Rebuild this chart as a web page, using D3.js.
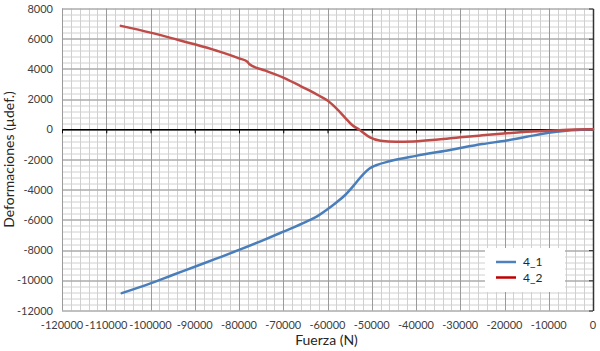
<!DOCTYPE html>
<html>
<head>
<meta charset="utf-8">
<script src="https://cdn.jsdelivr.net/npm/d3@7"></script>
<style>
  body { margin: 0; background: #fff; }
  svg { display: block; font-family: Lato, "Open Sans", sans-serif; }
</style>
</head>
<body>
<svg id="drawing_region"></svg>
<script>
// fuerza (N), deformacion (µdef.)
const fuerza41 = [-106500, -100000, -95000, -90000, -85000, -80000, -75000, -70000, -65000, -62000, -60000, -58000, -56000, -54000, -52000, -50500, -49000, -46000, -40000, -32300, -25000, -19500, -15000, -10000, -6000, 0];
const defor41  = [-10850, -10200, -9650, -9100, -8550, -7990, -7400, -6780, -6150, -5700, -5300, -4850, -4350, -3700, -3000, -2600, -2380, -2120, -1760, -1370, -980, -740, -500, -230, -100, 0];

const fuerza42 = [-106700, -100000, -95000, -90000, -85000, -80000, -78100, -77700, -74000, -70000, -66000, -64000, -62000, -60000, -58000, -56000, -54500, -52700, -50400, -48000, -44500, -40600, -35000, -30000, -25000, -19500, -15000, -10000, -6700, 0];
const defor42  = [6850, 6400, 6020, 5630, 5200, 4700, 4470, 4330, 3880, 3420, 2850, 2560, 2240, 1900, 1380, 760, 300, -50, -540, -760, -820, -800, -680, -530, -400, -265, -170, -90, -40, 0];

const seriesNames = ["4_1", "4_2"];
const xTicks = d3.range(-120000, 1, 10000);
const yTicks = d3.range(-12000, 8001, 2000);

const width = 600, height = 351;
const margin = {top: 8.5, right: 7, bottom: 40.5, left: 62};
const innerW = width - margin.left - margin.right;
const innerH = height - margin.top - margin.bottom;

const svg = d3.select('#drawing_region').attr('width', width).attr('height', height);
const chart = svg.append('g').attr('transform', `translate(${margin.left}, ${margin.top})`);

const xscale = d3.scaleLinear().domain([-120000, 0]).range([0, innerW]);
const yscale = d3.scaleLinear().domain([-12000, 8000]).range([innerH, 0]);

// minor grid
chart.append('g').selectAll('line').data(d3.range(-120000, 1, 2000)).enter()
  .append('line')
  .attr('x1', d => Math.round(xscale(d)) + 0.5).attr('x2', d => Math.round(xscale(d)) + 0.5)
  .attr('y1', 0).attr('y2', innerH)
  .attr('stroke', '#d0d0d0').attr('stroke-width', 1);
chart.append('g').selectAll('line').data(d3.range(-12000, 8001, 400)).enter()
  .append('line')
  .attr('y1', d => Math.round(yscale(d)) + 0.5).attr('y2', d => Math.round(yscale(d)) + 0.5)
  .attr('x1', 0).attr('x2', innerW)
  .attr('stroke', '#d0d0d0').attr('stroke-width', 1);

// major grid
chart.append('g').selectAll('line').data(xTicks).enter()
  .append('line')
  .attr('x1', d => Math.round(xscale(d)) + 0.5).attr('x2', d => Math.round(xscale(d)) + 0.5)
  .attr('y1', 0).attr('y2', innerH)
  .attr('stroke', '#9a9a9a').attr('stroke-width', 1);
chart.append('g').selectAll('line').data(yTicks).enter()
  .append('line')
  .attr('y1', d => Math.round(yscale(d)) + 0.5).attr('y2', d => Math.round(yscale(d)) + 0.5)
  .attr('x1', 0).attr('x2', innerW)
  .attr('stroke', '#9a9a9a').attr('stroke-width', 1);

// x axis on zero line
const xaxis = d3.axisBottom(xscale).tickValues(xTicks).tickSize(4).tickSizeOuter(0).tickFormat('');
const xg = chart.append('g').attr('transform', `translate(0, ${yscale(0)})`).call(xaxis);
xg.select('.domain').attr('stroke', '#000').attr('stroke-width', 1.5);
xg.selectAll('.tick line').attr('stroke', '#000');

// y axis at x = 0 (right side), ticks pointing left
const yaxis = d3.axisLeft(yscale).tickValues(yTicks).tickSize(4).tickSizeOuter(0).tickFormat('');
const yg = chart.append('g').attr('transform', `translate(${xscale(0)}, 0)`).call(yaxis);
yg.select('.domain').attr('stroke', '#333').attr('stroke-width', 1.5);
yg.selectAll('.tick line').attr('stroke', '#333');

// tick labels (low position)
chart.append('g').selectAll('text').data(xTicks).enter()
  .append('text')
  .attr('x', d => xscale(d)).attr('y', innerH + 18)
  .attr('text-anchor', 'middle').attr('font-size', '11px').attr('fill', '#404040')
  .text(d => d);
chart.append('g').selectAll('text').data(yTicks).enter()
  .append('text')
  .attr('x', -9).attr('y', d => yscale(d) + 4)
  .attr('text-anchor', 'end').attr('font-size', '11px').attr('fill', '#404040')
  .text(d => d);

// axis titles
svg.append('text')
  .attr('x', margin.left + innerW / 2 - 1).attr('y', 345)
  .attr('text-anchor', 'middle').attr('font-size', '14px').attr('fill', '#262626')
  .text('Fuerza (N)');
svg.append('text')
  .attr('transform', `translate(14, ${margin.top + innerH / 2}) rotate(-90)`)
  .attr('text-anchor', 'middle').attr('font-size', '14px').attr('fill', '#262626')
  .text('Deformaciones (µdef.)');

// lines
const line = d3.line().x(d => xscale(d[0])).y(d => yscale(d[1])).curve(d3.curveMonotoneX);
const colors = ['#4A7EBB', '#BE4B48'];
const data41 = fuerza41.map((f, i) => [f, defor41[i]]);
const data42 = fuerza42.map((f, i) => [f, defor42[i]]);
[data41, data42].forEach((d, i) => {
  chart.append('path').datum(d)
    .attr('d', line)
    .attr('fill', 'none')
    .attr('stroke', colors[i])
    .attr('stroke-width', 2.5)
    .attr('stroke-linecap', 'round');
});

// legend
const lg = svg.append('g').attr('transform', 'translate(485, 248)');
lg.append('rect').attr('width', 80).attr('height', 44).attr('fill', '#fff');
const legendColors = ['#4F81BD', '#C00000'];
seriesNames.forEach((name, i) => {
  const y = 14 + i * 15.5;
  lg.append('line').attr('x1', 11).attr('x2', 31).attr('y1', y).attr('y2', y)
    .attr('stroke', legendColors[i]).attr('stroke-width', 2.5);
  lg.append('text').attr('x', 38).attr('y', y + 4)
    .attr('font-size', '12px').attr('fill', '#262626').text(name);
});
</script>
</body>
</html>
